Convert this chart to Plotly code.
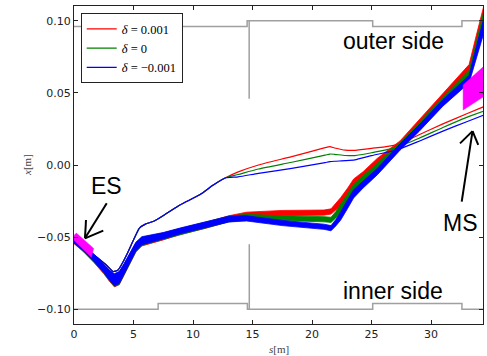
import numpy as np
import plotly.graph_objects as go

# ---------------- data ----------------
# aperture (gray) lines
outer_s = [0, 14.55, 14.55, 14.72, 14.72, 14.72, 25.1, 25.1, 32.6, 32.6, 35.0]
outer_x = [0.096, 0.096, 0.100, 0.100, 0.046, 0.100, 0.100, 0.096, 0.096, 0.100, 0.100]
inner_s = [0, 7.07, 7.07, 14.57, 14.57, 14.73, 14.73, 14.73, 25.1, 25.1, 32.6, 32.6, 35.0]
inner_x = [-0.100, -0.100, -0.096, -0.096, -0.100, -0.100, -0.055, -0.100, -0.100, -0.096, -0.096, -0.100, -0.100]

# thick bands (many particles), one per momentum deviation
band_s = [0, 0.8, 1.7, 2.5, 3.0, 3.4, 3.8, 4.2, 4.7, 5.2, 5.7, 6.5, 7.5, 9, 11, 13,
          14.5, 17.5, 21.0, 21.6, 22.0, 22.4, 23.0, 23.5, 24.3, 25.5, 27.4, 29, 31, 33.2, 33.8, 34.6]
blue_band = [-0.0525, -0.0575, -0.0645, -0.0715, -0.0765, -0.0795, -0.078, -0.0725, -0.064, -0.0565,
             -0.0525, -0.051, -0.049, -0.0455, -0.0415, -0.0375, -0.037, -0.0402, -0.0428, -0.0438,
             -0.040, -0.0355, -0.027, -0.020, -0.0135, -0.0045, 0.0125, 0.0255, 0.043, 0.0595, 0.0775, 0.1015]
green_band = [-0.0527, -0.0578, -0.0649, -0.0719, -0.0769, -0.0799, -0.0784, -0.0729, -0.0644, -0.0569,
              -0.0529, -0.0513, -0.0493, -0.0458, -0.0418, -0.0375, -0.036, -0.037, -0.0376, -0.038,
              -0.0345, -0.0305, -0.023, -0.016, -0.010, -0.001, 0.0135, 0.027, 0.045, 0.063, 0.081, 0.1065]
red_band = [-0.053, -0.0582, -0.0653, -0.0723, -0.0773, -0.0803, -0.0788, -0.0733, -0.0648, -0.0573,
            -0.0533, -0.0517, -0.0497, -0.046, -0.042, -0.0372, -0.0345, -0.0333, -0.033, -0.0322,
            -0.029, -0.0255, -0.019, -0.0125, -0.007, 0.0025, 0.0145, 0.029, 0.047, 0.067, 0.0856, 0.110]
band_spread = [0.0015, 0.002, 0.0025, 0.003, 0.0035, 0.0042, 0.0042, 0.004, 0.0035, 0.003,
               0.0028, 0.0025, 0.0022, 0.002, 0.002, 0.002, 0.0018, 0.0018, 0.0018, 0.0018,
               0.0022, 0.0028, 0.003, 0.0028, 0.0024, 0.0022, 0.0022, 0.0022, 0.0022, 0.0026, 0.004, 0.0055]

# thin single trajectories
thin_s_common = [0, 1.0, 2.0, 2.8, 3.3, 3.7, 4.0, 4.5, 5.0, 5.5, 6.0, 6.7, 7.8, 8.9, 10.6, 11.7, 12.7]
thin_x_common = [-0.0525, -0.058, -0.0645, -0.070, -0.0738, -0.0728, -0.069, -0.061, -0.052, -0.0437,
                 -0.041, -0.039, -0.0335, -0.0277, -0.0205, -0.0139, -0.009]
thin_s_tail = [13.8, 15.5, 18.3, 21.1, 21.5, 21.9, 22.8, 23.6, 25.0, 27.1, 29.0, 31.0, 33.0, 34.6]
red_thin = [-0.0048, 0.0, 0.0058, 0.012, 0.0127, 0.0118, 0.0103, 0.0102, 0.0115, 0.014, 0.021, 0.0285, 0.0355, 0.041]
green_thin = [-0.0066, -0.0028, 0.0019, 0.0068, 0.0076, 0.0074, 0.0066, 0.0065, 0.0085, 0.0122, 0.0185, 0.026, 0.033, 0.0378]
blue_thin = [-0.0082, -0.0058, -0.0023, 0.0017, 0.0023, 0.0026, 0.003, 0.0036, 0.0065, 0.0104, 0.0165, 0.0235, 0.030, 0.0352]

# septa (magenta)
es_s = [-0.2, 0.2, 1.65, 1.45]
es_x = [-0.0505, -0.0472, -0.0578, -0.0640]
ms_s = [32.7, 34.6, 34.6, 32.7]
ms_x = [0.0554, 0.0696, 0.0484, 0.0381]

labels = ["<i>δ</i> = 0.001", "<i>δ</i> = 0", "<i>δ</i> = −0.001"]
colors = ["#ff0000", "#008000", "#0000ff"]

x_ticks = [0, 5, 10, 15, 20, 25, 30]
y_ticks = [-0.10, -0.05, 0.0, 0.05, 0.10]

# ---------------- figure ----------------
fig = go.Figure()
gray = "#a0a0a0"
fig.add_trace(go.Scatter(x=outer_s, y=outer_x, mode="lines", line=dict(color=gray, width=1.5),
                         showlegend=False, hoverinfo="skip"))
fig.add_trace(go.Scatter(x=inner_s, y=inner_x, mode="lines", line=dict(color=gray, width=1.5),
                         showlegend=False, hoverinfo="skip"))

bs = np.array(band_s)
sp = np.array(band_spread)
for band, thin, name, col in zip([red_band, green_band, blue_band],
                                 [red_thin, green_thin, blue_thin], labels, colors):
    b = np.array(band)
    up = b + sp
    lo = b - sp
    fig.add_trace(go.Scatter(x=np.concatenate([bs, bs[::-1]]), y=np.concatenate([up, lo[::-1]]),
                             mode="lines", fill="toself", fillcolor=col,
                             line=dict(color=col, width=0.8), showlegend=False, hoverinfo="skip"))
    fig.add_trace(go.Scatter(x=thin_s_common + thin_s_tail, y=thin_x_common + thin,
                             mode="lines", line=dict(color=col, width=1.2, shape="spline", smoothing=0.6),
                             name=name))

fig.add_trace(go.Scatter(x=es_s + es_s[:1], y=es_x + es_x[:1], mode="lines", fill="toself",
                         fillcolor="#ff00ff", line=dict(color="#ff00ff", width=0.5),
                         showlegend=False, hoverinfo="skip"))
fig.add_trace(go.Scatter(x=ms_s + ms_s[:1], y=ms_x + ms_x[:1], mode="lines", fill="toself",
                         fillcolor="#ff00ff", line=dict(color="#ff00ff", width=0.5),
                         showlegend=False, hoverinfo="skip"))

# arrows (open V heads)
arrows = [
    ((2.75, -0.0265), (0.92, -0.0508), (1.01, -0.0381), (2.46, -0.0455)),
    ((32.58, -0.0254), (33.49, 0.0235), (32.44, 0.0150), (33.97, 0.0139)),
]
shapes = []
for tail, tip, a1, a2 in arrows:
    for p in (tail, a1, a2):
        shapes.append(dict(type="line", xref="x", yref="y", x0=p[0], y0=p[1], x1=tip[0], y1=tip[1],
                           line=dict(color="black", width=2)))

txtfont = dict(family="Liberation Sans, Arial", size=23, color="black")
lblfont = dict(family="Liberation Serif", size=11, color="#444")
annotations = [
    dict(x=26.87, y=0.0859, text="outer side", showarrow=False, font=txtfont, xanchor="center", yanchor="middle"),
    dict(x=26.83, y=-0.0873, text="inner side", showarrow=False, font=txtfont, xanchor="center", yanchor="middle"),
    dict(x=2.71, y=-0.0145, text="ES", showarrow=False, font=txtfont, xanchor="center", yanchor="middle"),
    dict(x=32.5, y=-0.0402, text="MS", showarrow=False, font=txtfont, xanchor="center", yanchor="middle"),
    dict(x=0.5, y=0, xref="paper", yref="paper", yshift=-25, text="<i>s</i>[m]", showarrow=False,
         font=lblfont, xanchor="center", yanchor="middle"),
    dict(x=0, y=0.5, xref="paper", yref="paper", xshift=-47, text="<i>x</i>[m]",
         textangle=-90, showarrow=False, font=lblfont, xanchor="center", yanchor="middle"),
]

axis_common = dict(showline=True, linecolor="#222", linewidth=1.2, mirror="allticks",
                   ticks="inside", ticklen=4, tickcolor="#222", showgrid=False, zeroline=False,
                   automargin=False,
                   tickfont=dict(family="DejaVu Sans", size=11, color="#222"))

fig.update_layout(
    width=487, height=356,
    margin=dict(l=74, r=4, t=6, b=32),
    paper_bgcolor="white", plot_bgcolor="white",
    xaxis=dict(range=[0, 34.37], tickvals=x_ticks, ticktext=[str(v) for v in x_ticks], **axis_common),
    yaxis=dict(range=[-0.1102, 0.1102], tickvals=y_ticks, tickformat=".2f", **axis_common),
    legend=dict(x=0.0164, y=0.977, xanchor="left", yanchor="top", bgcolor="white",
                bordercolor="#222", borderwidth=1,
                font=dict(family="Liberation Serif", size=12.5, color="black"),
                tracegroupgap=0, itemwidth=30),
    shapes=shapes,
    annotations=annotations,
)

fig.write_html("out.html", config={"displayModeBar": False},
               post_script="document.body.style.margin='0px';")
